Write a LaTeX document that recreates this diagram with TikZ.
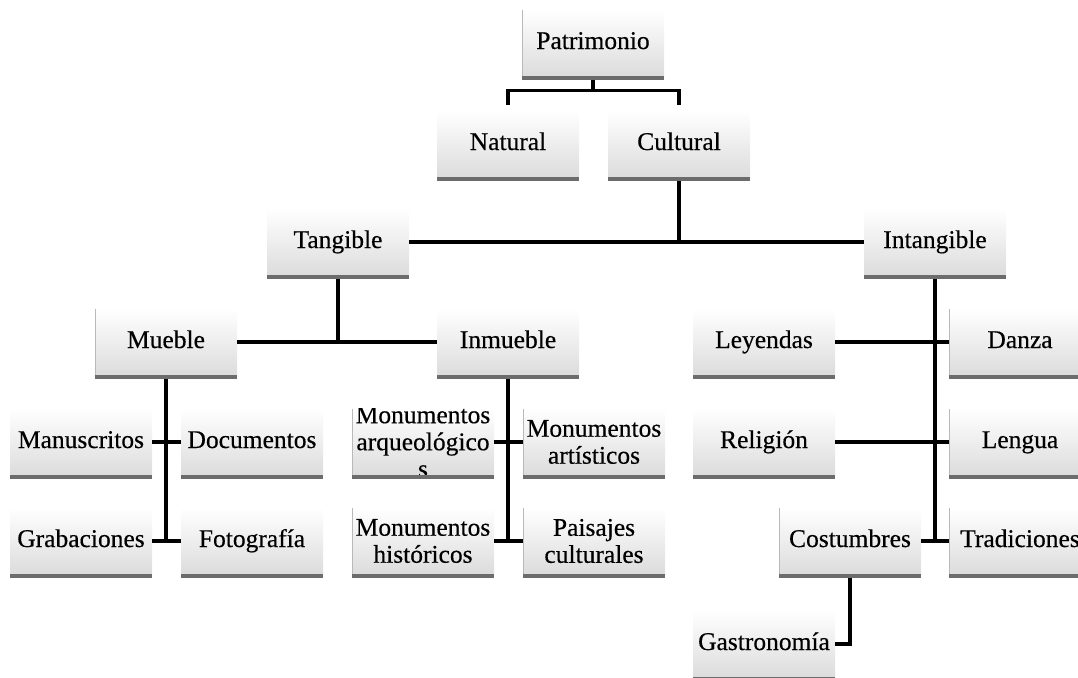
\documentclass[tikz,border=0pt]{standalone}
\usepackage{fontspec}
\setmainfont[FakeBold=0.4]{Liberation Serif}
\definecolor{bargray}{RGB}{108,108,108}
\definecolor{shadegray}{RGB}{220,220,220}
\definecolor{edgegray}{RGB}{185,185,185}
\tikzset{
  box/.style={rectangle, minimum width=142pt, minimum height=66pt, inner sep=0pt,
    top color=white, middle color=white, bottom color=shadegray,
    font=\fontsize{25.5}{27}\selectfont},
  box1/.style={box, text height=17pt, text depth=5pt},
  box2/.style={box, align=center},
  mtext/.style={font=\fontsize{25.5}{27}\selectfont, align=center, inner sep=0pt},
  conn/.style={line width=3.3pt, black}
}
\begin{document}
\begin{tikzpicture}[x=1pt,y=-1pt]
\useasboundingbox (0,0) rectangle (1078,677);
% nodes
\node[box1] (pat) at (593,43) {Patrimonio};
\node[box1] (nat) at (508,144) {Natural};
\node[box1] (cul) at (679,144) {Cultural};
\node[box1] (tan) at (338,242) {Tangible};
\node[box1] (int) at (935,242) {Intangible};
\node[box1] (mue) at (166,342) {Mueble};
\node[box1] (inm) at (508,342) {Inmueble};
\node[box1] (ley) at (764,342) {Leyendas};
\node[box1] (dan) at (1020,342) {Danza};
\node[box1] (man) at (81,442) {Manuscritos};
\node[box1] (doc) at (252,442) {Documentos};
\node[box] (marq) at (423,442) {};
\begin{scope}
  \clip (marq.south west) rectangle (marq.north east);
  \node[mtext] (marqt) at (marq.center) {Monumentos\\arqueológico\\s};
\end{scope}
\node[box2] (mart) at (594,442) {Monumentos\\artísticos};
\node[box1] (rel) at (764,442) {Religión};
\node[box1] (len) at (1020,442) {Lengua};
\node[box1] (gra) at (81,541) {Grabaciones};
\node[box1] (fot) at (252,541) {Fotografía};
\node[box2] (mhis) at (423,541) {Monumentos\\históricos};
\node[box2] (pai) at (594,541) {Paisajes\\culturales};
\node[box1] (cos) at (850,541) {Costumbres};
\node[box1] (tra) at (1020,541) {Tradiciones};
\node[box1] (gas) at (764,644) {Gastronomía};
% bottom bars
\foreach \n in {pat,nat,cul,tan,int,mue,inm,ley,dan,man,doc,marq,mart,rel,len,gra,fot,mhis,pai,cos,tra,gas}
  \fill[bargray] (\n.south west) rectangle ([yshift=-4pt]\n.south east);
% thin left edges
\foreach \n in {pat,mue,marq,mart,mhis,pai,dan,len,tra,cos}
  \draw[edgegray, line width=1pt] ([xshift=0.5pt]\n.north west) -- ([xshift=0.5pt]\n.south west);
% connectors
\draw[conn] ([yshift=-4pt]pat.south) -- ++(0,10) coordinate (pj);
\draw[conn] ([yshift=6pt]nat.north) |- (pj) -| ([yshift=6pt]cul.north);
\draw[conn] ([yshift=-4pt]cul.south) -- (cul.south |- tan.east);
\draw[conn] (tan.east) -- (int.west);
\draw[conn] ([yshift=-4pt]tan.south) -- (tan.south |- mue.east);
\draw[conn] (mue.east) -- (inm.west);
\draw[conn] ([yshift=-4pt]mue.south) -- (mue.south |- gra.east);
\draw[conn] (man.east) -- (doc.west);
\draw[conn] (gra.east) -- (fot.west);
\draw[conn] ([yshift=-4pt]inm.south) -- (inm.south |- mhis.east);
\draw[conn] (marq.east) -- (mart.west);
\draw[conn] (mhis.east) -- (pai.west);
\draw[conn] ([yshift=-4pt]int.south) -- (int.south |- cos.east);
\draw[conn] (ley.east) -- (dan.west);
\draw[conn] (rel.east) -- (len.west);
\draw[conn] (cos.east) -- (tra.west);
\draw[conn] ([yshift=-4pt]cos.south) |- (gas.east);
\end{tikzpicture}
\end{document}
